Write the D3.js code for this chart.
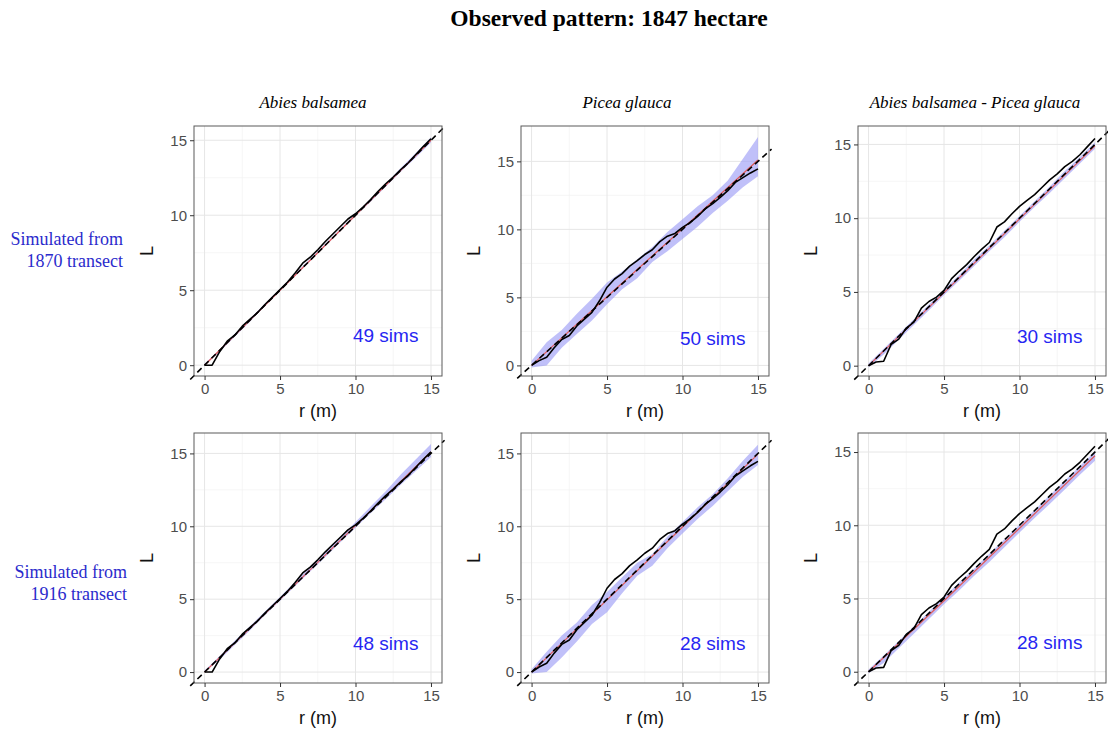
<!DOCTYPE html>
<html lang="en">
<head>
<meta charset="UTF-8">
<title>Observed pattern: 1847 hectare</title>
<script src="https://cdn.jsdelivr.net/npm/d3@7"></script>
<style>
    body { margin: 0; background: #fff; }
    .grid-major { stroke: #e6e6e6; stroke-width: 1; }
    .grid-minor { stroke: #f2f2f2; stroke-width: 0.7; }
    .frame { fill: none; stroke: #5a5a5a; stroke-width: 1; }
    .tick-label { font-family: "Liberation Sans", Arial, sans-serif; font-size: 15px; fill: #4d4d4d; }
    .axis-title { font-family: "Liberation Sans", Arial, sans-serif; font-size: 18px; fill: #111; }
    .sims { font-family: "Liberation Sans", Arial, sans-serif; font-size: 19px; fill: #2626f2; }
    .serif { font-family: "Liberation Serif", "Times New Roman", serif; }
</style>
</head>
<body>
<script>
    const width = 1108;
    const height = 733;

    // facets
    const species = ["Abies balsamea", "Picea glauca", "Abies balsamea - Picea glauca"];
    const rowLabels = [["Simulated from", "1870 transect"], ["Simulated from", "1916 transect"]];
    const simCounts = [[49, 50, 30], [48, 28, 28]];
    const ticks = [0, 5, 10, 15];
    const minorTicks = [2.5, 7.5, 12.5];

    // observed L(r), same 1847 pattern in both rows
    const rObs = [0, 0.5, 1, 1.5, 2, 2.5, 3, 3.5, 4, 4.5, 5, 5.5, 6, 6.5, 7, 7.5,
        8, 8.5, 9, 9.5, 10, 10.5, 11, 11.5, 12, 12.5, 13, 13.5, 14, 14.5, 15];
    const obsAbies = [0, 0, 0.9, 1.6, 2.0, 2.6, 3.05, 3.5, 4.05, 4.55, 5.05, 5.55, 6.15, 6.8, 7.2, 7.7,
        8.25, 8.75, 9.25, 9.75, 10.1, 10.55, 11.05, 11.6, 12.1, 12.55, 13.05, 13.5, 14.05, 14.6, 15.1];
    const obsPicea = [0, 0.35, 0.6, 1.3, 1.9, 2.2, 2.9, 3.4, 3.9, 4.75, 5.75, 6.35, 6.75, 7.3, 7.7, 8.15,
        8.5, 9.1, 9.5, 9.7, 10.15, 10.5, 10.95, 11.5, 11.9, 12.35, 12.85, 13.45, 13.8, 14.15, 14.45];
    const obsMixed = [0, 0.25, 0.3, 1.45, 1.8, 2.55, 2.95, 3.9, 4.35, 4.65, 5.1, 5.9, 6.4, 6.85, 7.4, 7.9,
        8.35, 9.4, 9.75, 10.3, 10.8, 11.2, 11.6, 12.1, 12.6, 13.0, 13.5, 13.85, 14.3, 14.85, 15.4];

    // simulation envelopes
    const rEnv = [0, 1, 2, 3, 4, 5, 6, 7, 8, 9, 10, 11, 12, 13, 14, 15];
    const lo1870Abies = [0, 0.9, 1.9, 2.9, 3.95, 4.95, 5.95, 6.95, 7.95, 8.95, 9.95, 10.9, 11.9, 12.9, 13.85, 14.85];
    const hi1870Abies = [0.1, 1.05, 2.1, 3.1, 4.1, 5.1, 6.1, 7.1, 8.1, 9.1, 10.1, 11.1, 12.1, 13.15, 14.15, 15.2];
    const lo1870Picea = [-0.15, 0.0, 1.3, 2.3, 3.3, 4.5, 5.6, 6.4, 7.6, 8.4, 9.3, 10.2, 11.2, 12.1, 13.1, 13.9];
    const hi1870Picea = [0.35, 1.7, 2.6, 3.8, 4.9, 6.1, 6.9, 7.8, 8.7, 9.8, 10.75, 11.7, 12.5, 13.6, 15.2, 16.8];
    const lo1870Mixed = [-0.1, 0.75, 1.75, 2.75, 3.75, 4.8, 5.75, 6.75, 7.75, 8.7, 9.75, 10.75, 11.7, 12.7, 13.7, 14.7];
    const hi1870Mixed = [0.15, 1.15, 2.15, 3.15, 4.15, 5.15, 6.15, 7.2, 8.15, 9.15, 10.15, 11.15, 12.15, 13.2, 14.15, 15.15];
    const lo1916Abies = [0, 0.85, 1.85, 2.85, 3.9, 4.9, 5.9, 6.9, 7.9, 8.9, 9.9, 10.9, 11.85, 12.85, 13.8, 14.75];
    const hi1916Abies = [0.1, 1.1, 2.15, 3.15, 4.15, 5.15, 6.2, 7.2, 8.2, 9.25, 10.3, 11.35, 12.4, 13.55, 14.6, 15.65];
    const lo1916Picea = [-0.1, 0.0, 1.0, 2.1, 3.3, 4.1, 5.4, 6.6, 7.3, 8.5, 9.5, 10.5, 11.4, 12.4, 13.4, 14.2];
    const hi1916Picea = [0.2, 1.4, 2.5, 3.4, 4.6, 5.5, 6.5, 7.5, 8.1, 9.3, 10.3, 11.3, 12.2, 13.3, 14.5, 15.6];
    const lo1916Mixed = [-0.1, 0.6, 1.6, 2.6, 3.6, 4.6, 5.55, 6.55, 7.5, 8.5, 9.5, 10.5, 11.45, 12.45, 13.45, 14.4];
    const hi1916Mixed = [0.15, 1.1, 2.1, 3.1, 4.1, 5.1, 6.1, 7.05, 8.05, 9.05, 10.05, 11.05, 12.05, 13.05, 14.05, 15.05];

    // mean of simulations (red)
    const rMean = [0, 5, 10, 15];
    const mean1870 = [[0, 5, 10, 15], [0, 5.05, 10.05, 15.1], [0, 4.95, 9.95, 14.9]];
    const mean1916 = [[0, 5, 10.05, 15.1], [0, 4.95, 9.95, 14.95], [0, 4.85, 9.8, 14.75]];

    // theoretical L(r) = r, drawn across the whole panel
    const rTheo = [-0.95, 15.9];

    // y limits of each facet (free scales)
    const yLimits = [[[-0.72, 15.95], [-0.78, 17.6], [-0.7, 16.25]],
                     [[-0.75, 16.4], [-0.75, 16.4], [-0.77, 16.3]]];
    const xLimits = [-0.7, 15.73];

    const observed = [obsAbies, obsPicea, obsMixed];
    const envelopes = [
        [[lo1870Abies, hi1870Abies], [lo1870Picea, hi1870Picea], [lo1870Mixed, hi1870Mixed]],
        [[lo1916Abies, hi1916Abies], [lo1916Picea, hi1916Picea], [lo1916Mixed, hi1916Mixed]]
    ];
    const means = [mean1870, mean1916];

    // layout
    const colLeft = [194, 521, 858];
    const rowTop = [126, 433];
    const panelW = 248, panelH = 250;
    const headerX = [313, 627, 975];

    const svg = d3.select("body").append("svg")
        .attr("width", width).attr("height", height);

    svg.append("text")
        .attr("class", "serif")
        .attr("x", 609).attr("y", 26)
        .attr("text-anchor", "middle")
        .style("font-size", "23.5px").style("font-weight", "bold")
        .text("Observed pattern: 1847 hectare");

    species.forEach((s, c) => {
        svg.append("text")
            .attr("class", "serif")
            .attr("x", headerX[c]).attr("y", 108)
            .attr("text-anchor", "middle")
            .style("font-size", "17px").style("font-style", "italic")
            .text(s);
    });

    rowLabels.forEach((lines, r) => {
        const cy = r === 0 ? 239 : 572;
        lines.forEach((t, i) => {
            svg.append("text")
                .attr("class", "serif")
                .attr("x", r === 0 ? 123 : 127).attr("y", cy + 6 + i * 22)
                .attr("text-anchor", "end")
                .style("font-size", "18px").style("fill", "#2b2bcc")
                .text(t);
        });
    });

    rowTop.forEach((top, r) => {
        colLeft.forEach((left, c) => drawPanel(r, c, left, top));
    });

    function drawPanel(r, c, left, top) {
        const x = d3.scaleLinear().domain(xLimits).range([left, left + panelW]);
        const y = d3.scaleLinear().domain(yLimits[r][c]).range([top + panelH, top]);
        const g = svg.append("g");
        const clipId = "clip-" + r + "-" + c;

        g.append("clipPath").attr("id", clipId)
            .append("rect").attr("x", left).attr("y", top)
            .attr("width", panelW).attr("height", panelH);

        // grid
        g.selectAll(".gx-minor").data(minorTicks).enter().append("line")
            .attr("class", "grid-minor")
            .attr("x1", d => x(d)).attr("x2", d => x(d))
            .attr("y1", top).attr("y2", top + panelH);
        g.selectAll(".gy-minor").data(minorTicks).enter().append("line")
            .attr("class", "grid-minor")
            .attr("y1", d => y(d)).attr("y2", d => y(d))
            .attr("x1", left).attr("x2", left + panelW);
        g.selectAll(".gx").data(ticks).enter().append("line")
            .attr("class", "grid-major")
            .attr("x1", d => x(d)).attr("x2", d => x(d))
            .attr("y1", top).attr("y2", top + panelH);
        g.selectAll(".gy").data(ticks).enter().append("line")
            .attr("class", "grid-major")
            .attr("y1", d => y(d)).attr("y2", d => y(d))
            .attr("x1", left).attr("x2", left + panelW);

        const plot = g.append("g").attr("clip-path", "url(#" + clipId + ")");

        // envelope
        const [lo, hi] = envelopes[r][c];
        const band = rEnv.map((rv, i) => ({ r: rv, lo: lo[i], hi: hi[i] }));
        plot.append("path")
            .datum(band)
            .attr("fill", "#9a9af5")
            .attr("fill-opacity", 0.62)
            .attr("d", d3.area().x(d => x(d.r)).y0(d => y(d.lo)).y1(d => y(d.hi)));

        // mean of simulations
        plot.append("path")
            .datum(rMean.map((rv, i) => [rv, means[r][c][i]]))
            .attr("fill", "none")
            .attr("stroke", "#e05a5a")
            .attr("stroke-width", 1.2)
            .attr("d", d3.line().x(d => x(d[0])).y(d => y(d[1])));

        // observed
        plot.append("path")
            .datum(rObs.map((rv, i) => [rv, observed[c][i]]))
            .attr("fill", "none")
            .attr("stroke", "#000")
            .attr("stroke-width", 1.6)
            .attr("stroke-linejoin", "round")
            .attr("d", d3.line().x(d => x(d[0])).y(d => y(d[1])));

        // theoretical, not clipped
        g.append("path")
            .datum(rTheo.map(v => [v, v]))
            .attr("fill", "none")
            .attr("stroke", "#000")
            .attr("stroke-width", 1.6)
            .attr("stroke-dasharray", "6,4")
            .attr("d", d3.line().x(d => x(d[0])).y(d => y(d[1])));

        g.append("rect").attr("class", "frame")
            .attr("x", left).attr("y", top)
            .attr("width", panelW).attr("height", panelH);

        // axes
        const xAxis = g.append("g").attr("transform", `translate(0,${top + panelH})`)
            .call(d3.axisBottom(x).tickValues(ticks).tickSize(4).tickPadding(3));
        const yAxis = g.append("g").attr("transform", `translate(${left},0)`)
            .call(d3.axisLeft(y).tickValues(ticks).tickSize(4).tickPadding(3));
        [xAxis, yAxis].forEach(a => {
            a.select(".domain").remove();
            a.selectAll(".tick line").attr("stroke", "#333");
            a.selectAll(".tick text").attr("class", "tick-label").attr("font-size", null).attr("font-family", null);
        });

        g.append("text").attr("class", "axis-title")
            .attr("x", left + panelW / 2).attr("y", top + panelH + 41)
            .attr("text-anchor", "middle")
            .text("r (m)");
        g.append("text").attr("class", "axis-title")
            .attr("transform", `translate(${left - 41},${top + panelH / 2}) rotate(-90)`)
            .attr("text-anchor", "middle")
            .text("L");

        g.append("text").attr("class", "sims")
            .attr("x", x(12)).attr("y", y(2) + 7)
            .attr("text-anchor", "middle")
            .text(simCounts[r][c] + " sims");
    }
</script>
</body>
</html>
